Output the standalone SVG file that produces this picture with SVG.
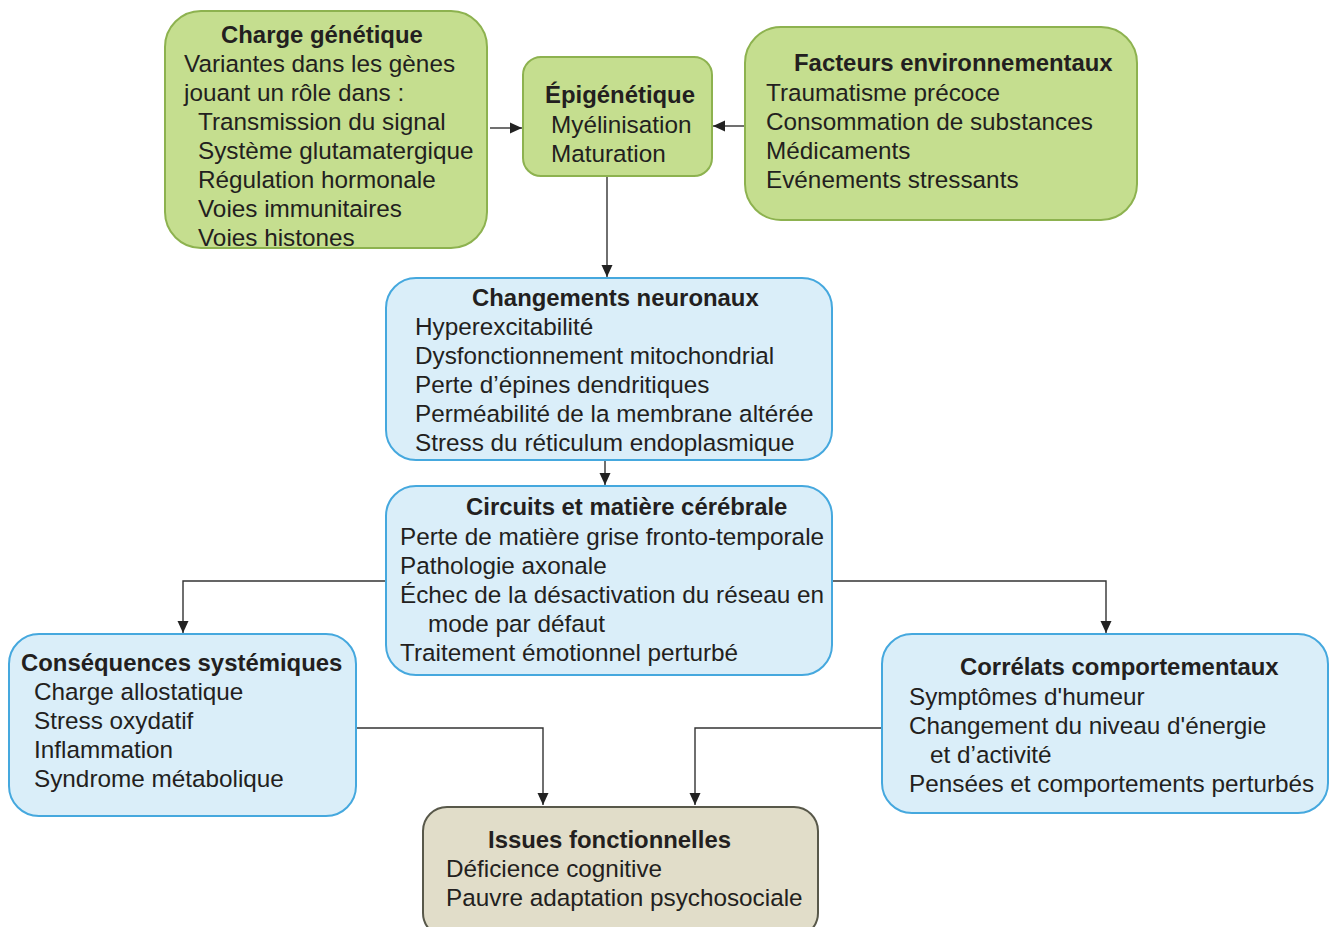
<svg xmlns="http://www.w3.org/2000/svg" width="1336" height="927" viewBox="0 0 1336 927">
<style>
text{font-family:"Liberation Sans",Arial,sans-serif;font-size:24.3px;fill:#231f20}
.t{font-weight:bold;font-size:23.9px}
.g{fill:#c5de8f;stroke:#8db24f;stroke-width:2}
.b{fill:#daeef9;stroke:#45a8de;stroke-width:2}
.k{fill:#e1ddc9;stroke:#58584a;stroke-width:2}
.c{fill:none;stroke:#333;stroke-width:1.4}
</style>
<defs>
<marker id="ah" markerUnits="userSpaceOnUse" markerWidth="14" markerHeight="14" refX="12" refY="7" orient="auto">
<path d="M0,1.5 L12,7 L0,12.5 Z" fill="#222"/>
</marker>
</defs>
<rect width="1336" height="927" fill="#fff"/>
<g id="connectors">
<path class="c" d="M490,128 H522" marker-end="url(#ah)"/>
<path class="c" d="M745,126 H713" marker-end="url(#ah)"/>
<path class="c" d="M607,177 V277" marker-end="url(#ah)"/>
<path class="c" d="M605,461 V485" marker-end="url(#ah)"/>
<path class="c" d="M386,581 H183 V633" marker-end="url(#ah)"/>
<path class="c" d="M832,581 H1106 V633" marker-end="url(#ah)"/>
<path class="c" d="M356,728 H543 V805" marker-end="url(#ah)"/>
<path class="c" d="M882,728 H695 V805" marker-end="url(#ah)"/>
</g>
<g id="charge">
<rect class="g" x="165" y="11" width="322" height="237" rx="36"/>
<text class="t" x="221" y="43">Charge génétique</text>
<text x="184" y="72">Variantes dans les gènes</text>
<text x="184" y="101">jouant un rôle dans :</text>
<text x="198" y="130">Transmission du signal</text>
<text x="198" y="159">Système glutamatergique</text>
<text x="198" y="188">Régulation hormonale</text>
<text x="198" y="217">Voies immunitaires</text>
<text x="198" y="246">Voies histones</text>
</g>
<g id="epigenetique">
<rect class="g" x="523" y="57" width="189" height="119" rx="18"/>
<text class="t" x="545" y="103">Épigénétique</text>
<text x="551" y="133">Myélinisation</text>
<text x="551" y="162">Maturation</text>
</g>
<g id="facteurs">
<rect class="g" x="745" y="27" width="392" height="193" rx="36"/>
<text class="t" x="794" y="71">Facteurs environnementaux</text>
<text x="766" y="101">Traumatisme précoce</text>
<text x="766" y="130">Consommation de substances</text>
<text x="766" y="159">Médicaments</text>
<text x="766" y="188">Evénements stressants</text>
</g>
<g id="changements">
<rect class="b" x="386" y="278" width="446" height="182" rx="30"/>
<text class="t" x="472" y="306">Changements  neuronaux</text>
<text x="415" y="335">Hyperexcitabilité</text>
<text x="415" y="364">Dysfonctionnement mitochondrial</text>
<text x="415" y="393">Perte d’épines dendritiques</text>
<text x="415" y="422">Perméabilité de la membrane altérée</text>
<text x="415" y="451">Stress du réticulum endoplasmique</text>
</g>
<g id="circuits">
<rect class="b" x="386" y="486" width="446" height="189" rx="30"/>
<text class="t" x="466" y="515">Circuits et matière cérébrale</text>
<text x="400" y="545">Perte de matière grise fronto-temporale</text>
<text x="400" y="574">Pathologie axonale</text>
<text x="400" y="603">Échec de la désactivation du réseau en</text>
<text x="428" y="632">mode par défaut</text>
<text x="400" y="661">Traitement émotionnel perturbé</text>
</g>
<g id="consequences">
<rect class="b" x="9" y="634" width="347" height="182" rx="30"/>
<text class="t" x="21" y="671">Conséquences systémiques</text>
<text x="34" y="700">Charge allostatique</text>
<text x="34" y="729">Stress oxydatif</text>
<text x="34" y="758">Inflammation</text>
<text x="34" y="787">Syndrome métabolique</text>
</g>
<g id="correlats">
<rect class="b" x="882" y="634" width="446" height="179" rx="30"/>
<text class="t" x="960" y="675">Corrélats comportementaux</text>
<text x="909" y="705">Symptômes d'humeur</text>
<text x="909" y="734">Changement du niveau d'énergie</text>
<text x="930" y="763">et d’activité</text>
<text x="909" y="792">Pensées et comportements perturbés</text>
</g>
<g id="issues">
<rect class="k" x="423" y="807" width="395" height="130" rx="24"/>
<text class="t" x="488" y="848">Issues fonctionnelles</text>
<text x="446" y="877">Déficience cognitive</text>
<text x="446" y="906">Pauvre adaptation psychosociale</text>
</g>
</svg>
